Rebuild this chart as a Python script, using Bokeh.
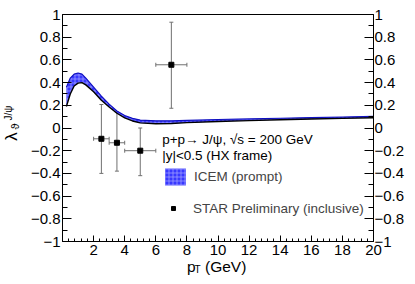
import math
from bokeh.plotting import figure
from bokeh.models import (LinearAxis, Range1d, ColumnDataSource, Whisker, Label, Legend,
                          LegendItem, CustomJSTickFormatter, FixedTicker, TeeHead)
from bokeh.embed import file_html
from bokeh.resources import INLINE

# ICEM (prompt) band
icem_pt = [0.25, 0.5, 0.75, 1.0, 1.25, 1.5, 2.0, 2.5, 3.0, 3.5, 4.0, 4.5, 5.0, 6.0, 7.0, 8.0,
           10.0, 12.0, 14.0, 16.0, 18.0, 20.0]
icem_lo = [0.19, 0.30, 0.37, 0.395, 0.40, 0.38, 0.32, 0.245, 0.185, 0.13, 0.09, 0.062, 0.045,
           0.038, 0.040, 0.047, 0.057, 0.065, 0.073, 0.079, 0.085, 0.09]
icem_hi = [0.36, 0.44, 0.475, 0.485, 0.475, 0.44, 0.36, 0.28, 0.21, 0.15, 0.11, 0.085, 0.07,
           0.063, 0.063, 0.067, 0.075, 0.080, 0.086, 0.092, 0.097, 0.103]

# STAR Preliminary (inclusive)
star_pt = [2.5, 3.5, 5.0, 7.0]
star_val = [-0.095, -0.13, -0.20, 0.557]
star_xerr = [0.5, 0.5, 1.0, 1.0]
star_ylo = [-0.40, -0.38, -0.42, 0.174]
star_yhi = [0.207, 0.139, 0.0, 0.932]

x_major = [2, 4, 6, 8, 10, 12, 14, 16, 18, 20]
y_major = [-1.0, -0.8, -0.6, -0.4, -0.2, 0.0, 0.2, 0.4, 0.6, 0.8, 1.0]

FONT = "Liberation Sans"
W, H = 407, 276
# frame of the drawn axes box (pixels on the canvas)
FL, FR, FT, FB = 62, 373, 14, 241
XMIN, XMAX, YMIN, YMAX = 0.0, 20.0, -1.0, 1.0
kx = (FR - FL) / (XMAX - XMIN)
ky = (FB - FT) / (YMAX - YMIN)

p = figure(width=W, height=H,
           x_range=Range1d(XMIN - FL / kx, XMAX + (W - FR) / kx),
           y_range=Range1d(YMIN - (H - FB) / ky, YMAX + FT / ky),
           output_backend="svg", toolbar_location=None,
           x_axis_location=None, y_axis_location=None, min_border=0)
p.xgrid.visible = False
p.ygrid.visible = False
p.outline_line_color = None

band_src = ColumnDataSource(dict(x=icem_pt, lo=icem_lo, hi=icem_hi))
band = p.varea(x="x", y1="lo", y2="hi", source=band_src, fill_color="#3838ff",
               hatch_pattern="cross", hatch_color="#a8a8ff", hatch_scale=4, hatch_weight=1,
               hatch_alpha=0.7)
p.line(x="x", y="hi", source=band_src, line_color="#1010c0", line_width=1.2)
p.line(x="x", y="lo", source=band_src, line_color="black", line_width=1.4)

xs = [a - b for a, b in zip(star_pt, star_xerr)]
xe = [a + b for a, b in zip(star_pt, star_xerr)]
star_src = ColumnDataSource(dict(x=star_pt, y=star_val, ylo=star_ylo, yhi=star_yhi, xs=xs, xe=xe))
EC = "#707070"
ew = Whisker(base="x", lower="ylo", upper="yhi", source=star_src, dimension="height",
             line_color=EC, line_width=1,
             lower_head=TeeHead(size=4, line_color=EC, line_width=1),
             upper_head=TeeHead(size=4, line_color=EC, line_width=1))
xw = Whisker(base="y", lower="xs", upper="xe", source=star_src, dimension="width",
             line_color=EC, line_width=1,
             lower_head=TeeHead(size=4, line_color=EC, line_width=1),
             upper_head=TeeHead(size=4, line_color=EC, line_width=1))
p.add_layout(ew)
p.add_layout(xw)
star = p.scatter(x="x", y="y", source=star_src, marker="square", size=5, fill_color="black",
                 line_color="black")

fmt = CustomJSTickFormatter(code="""
if (Math.abs(tick) < 1e-9) return "0";
const r = Math.round(tick*10)/10;
return r.toString().replace("-", "\u2212");
""")

yminor = [v / 10 for v in range(-10, 11)]
xminor = [v * 0.4 for v in range(0, 51)]

def style_axis(ax, tick_in, minor_in, standoff):
    ax.axis_line_color = "black"
    ax.axis_line_width = 1
    ax.major_tick_in = tick_in
    ax.major_tick_out = 0
    ax.minor_tick_in = minor_in
    ax.minor_tick_out = 0
    ax.major_tick_line_color = "black"
    ax.minor_tick_line_color = "black"
    ax.major_label_text_font = FONT
    ax.major_label_text_font_size = "15px"
    ax.major_label_text_color = "black"
    ax.major_label_standoff = standoff

bx = LinearAxis(fixed_location=YMIN, bounds=(XMIN, XMAX),
                ticker=FixedTicker(ticks=x_major, minor_ticks=xminor))
style_axis(bx, 6, 3, 3)
p.add_layout(bx, "below")

ly = LinearAxis(fixed_location=XMIN, bounds=(YMIN, YMAX),
                ticker=FixedTicker(ticks=y_major, minor_ticks=yminor), formatter=fmt)
style_axis(ly, 9, 5, 2)
p.add_layout(ly, "left")

ry = LinearAxis(fixed_location=XMAX, bounds=(YMIN, YMAX),
                ticker=FixedTicker(ticks=y_major, minor_ticks=yminor), formatter=fmt)
style_axis(ry, 9, 5, 1)
p.add_layout(ry, "right")

tx = LinearAxis(fixed_location=YMAX, bounds=(XMIN, XMAX), ticker=FixedTicker(ticks=[]))
tx.axis_line_color = "black"
tx.major_tick_line_color = None
tx.minor_tick_line_color = None
p.add_layout(tx, "above")

# annotation texts
def txt(x, y, s, size="13.5px", units="data", angle=0.0, align="left", baseline="middle"):
    p.add_layout(Label(x=x, y=y, x_units=units, y_units=units, text=s, text_font=FONT,
                       text_font_size=size, text_color="black", angle=angle,
                       text_align=align, text_baseline=baseline))

txt(6.41, -0.10, "p+p\u2192 J/\u03c8, \u221as = 200 GeV")
txt(6.41, -0.242, "|y|<0.5 (HX frame)")

leg_icem = Legend(items=[LegendItem(label="ICEM (prompt)", renderers=[band])],
                  location=(162, H - 187), glyph_width=26, glyph_height=21,
                  label_standoff=6, padding=0, margin=0, border_line_alpha=0,
                  background_fill_alpha=0, label_text_font=FONT, label_text_font_size="13.5px",
                  label_height=21)
leg_star = Legend(items=[LegendItem(label="STAR Preliminary (inclusive)", renderers=[star])],
                  location=(168, H - 216), glyph_width=10, glyph_height=16,
                  label_standoff=15, padding=0, margin=0, border_line_alpha=0,
                  background_fill_alpha=0, label_text_font=FONT, label_text_font_size="13.5px",
                  label_height=16)
p.add_layout(leg_icem)
p.add_layout(leg_star)

# axis titles (screen units from the canvas bottom-left)
txt(186.5, H - 265.5, "p", size="15.5px", units="screen", baseline="alphabetic")
txt(194.0, H - 269.0, "T", size="10px", units="screen", baseline="alphabetic")
txt(204.5, H - 265.5, "(GeV)", size="15.5px", units="screen", baseline="alphabetic")

txt(11.0, H - 136, "\u03bb", size="17px", units="screen", angle=math.pi / 2, align="center")
txt(14.5, H - 126, "\u03d1", size="11px", units="screen", angle=math.pi / 2, align="center")
txt(7.5, H - 112.5, "J/\u03c8", size="10px", units="screen", angle=math.pi / 2, align="center")

open("out.html", "w").write(file_html(p, INLINE))
